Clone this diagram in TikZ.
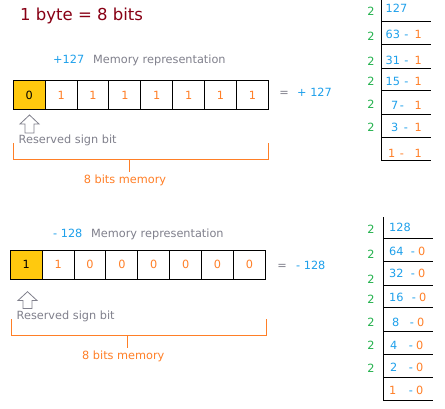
\documentclass[tikz,border=0pt]{standalone}
\usepackage{fontspec}
\setmainfont{DejaVu Sans}
\definecolor{titlered}{RGB}{136,0,21}
\definecolor{numblue}{RGB}{30,160,235}
\definecolor{bitorange}{RGB}{255,127,39}
\definecolor{labgray}{RGB}{128,128,140}
\definecolor{twogreen}{RGB}{34,177,76}
\definecolor{signgold}{RGB}{255,201,14}
\begin{document}
\begin{tikzpicture}[x=1pt,y=-1pt,
  every node/.style={inner sep=0pt, text height=8.2pt, text depth=0pt, font=\fontsize{11.3}{13}\selectfont},
  cell/.style={draw=black, line width=1pt, minimum width=31.875pt, minimum height=29pt, text=bitorange},
  signcell/.style={cell, fill=signgold, text=black},
  lbl/.style={text=labgray, anchor=west},
  num/.style={text=numblue, anchor=west},
  two/.style={text=twogreen},
  bracketline/.style={draw=bitorange, line width=0.9pt},
  tabline/.style={draw=black, line width=1pt},
  uparrow/.style={draw=labgray, line width=0.8pt, fill=white}]
\useasboundingbox[fill=white] (0,0) rectangle (445,408);

% title
\node[anchor=west, text=titlered, text height=12pt, font=\fontsize{16.5}{19}\selectfont] (title) at (20,14) {1 byte = 8 bits};

% ---------- top section ----------
\node[num] (tval) at (53,59) {+127};
\node[lbl] (tmem) at (93,59) {Memory representation};
\foreach \i/\t in {1/1,2/1,3/1,4/1,5/1,6/1,7/1} {
  \node[cell] (ta\i) at ({13.3+31.875*(\i+0.5)},94.9) {\t};
}
\node[signcell] (ta0) at ({13.3+31.875*0.5},94.9) {0};
\node[text=labgray] (teq) at (284,92) {=};
\node[num] (tres) at (297,92) {+ 127};
\path[uparrow] (29.5,115) -- (39,124) -- (34,124) -- (34,133) -- (25,133) -- (25,124) -- (20,124) -- cycle;
\node[lbl] (tsign) at (18.5,139) {Reserved sign bit};
\path[bracketline] (13.3,143) -- (13.3,159.3) -- (268.3,159.3) -- (268.3,143);
\coordinate (tbt) at (129.3,159.3);
\node[text=bitorange] (tbits) at (125,179) {8 bits memory};
\draw[bracketline, shorten >=3pt] (tbt) -- (tbt |- tbits.north);

% top division table
\draw[tabline] (381.3,0) -- (381.3,160) -- (431,160);
\foreach \y in {21.3,44,68.3,90,114,137} { \draw[tabline] (381.3,\y) -- (431,\y); }
\foreach \y [count=\k] in {11,36,61,81,104,127} { \node[two] (tt\k) at (371,\y) {2}; }
\node[num] (tq0) at (385.5,8) {127};
\node[num] (tq1) at (385.5,34) {63};
\node[num] (tq2) at (385.5,60) {31};
\node[num] (tq3) at (385.5,81) {15};
\node[num] (tq4) at (391,105) {7};
\node[num] (tq5) at (391,127) {3};
\node[text=bitorange, anchor=west] (tq6) at (388,153) {1};
\foreach \y/\dx/\k in {34/406.5/1,60/406.5/2,81/406.5/3,105/402/4,127/406/5} {
  \node[text=numblue] (td\k) at (\dx,\y) {-};
  \node[text=bitorange, anchor=west] (tr\k) at (414.5,\y) {1};
}
\node[text=bitorange] (td6) at (402,153) {-};
\node[text=bitorange, anchor=west] (tr6) at (414.5,153) {1};

% ---------- bottom section ----------
\node[num] (bval) at (53,233) {- 128};
\node[lbl] (bmem) at (91,233) {Memory representation};
\foreach \i/\t in {1/1,2/0,3/0,4/0,5/0,6/0,7/0} {
  \node[cell] (ba\i) at ({10.3+31.875*(\i+0.5)},264.8) {\t};
}
\node[signcell] (ba0) at ({10.3+31.875*0.5},264.8) {1};
\node[text=labgray] (beq) at (282,265) {=};
\node[num] (bres) at (296,265) {- 128};
\path[uparrow] (27.5,291.7) -- (37,300.5) -- (32,300.5) -- (32,308.5) -- (23,308.5) -- (23,300.5) -- (18,300.5) -- cycle;
\node[lbl] (bsign) at (16.5,315) {Reserved sign bit};
\path[bracketline] (11.7,319) -- (11.7,335.3) -- (266.3,335.3) -- (266.3,319);
\coordinate (bbt) at (127.3,335.3);
\node[text=bitorange] (bbits) at (123.3,355) {8 bits memory};
\draw[bracketline, shorten >=3pt] (bbt) -- (bbt |- bbits.north);

% bottom division table
\draw[tabline] (383.3,217.3) -- (383.3,400) -- (433.3,400);
\foreach \y in {238.7,261.3,285.3,307.3,331.3,354.3,377.3} { \draw[tabline] (383.3,\y) -- (433.3,\y); }
\foreach \y [count=\k] in {229,254,279,299,322,345,368} { \node[two] (bt\k) at (371,\y) {2}; }
\node[num] (bq0) at (389,227) {128};
\node[num] (bq1) at (389,251) {64};
\node[num] (bq2) at (389,273) {32};
\node[num] (bq3) at (389,297) {16};
\node[num] (bq4) at (392,322) {8};
\node[num] (bq5) at (390,345) {4};
\node[num] (bq6) at (390,367) {2};
\node[text=bitorange, anchor=west] (bq7) at (389,390) {1};
\foreach \y/\dx/\k in {251/413/1,273/413/2,297/414/3,322/412/4,345/411/5,367/411/6,390/411/7} {
  \node[text=numblue] (bd\k) at (\dx,\y) {-};
  \node[text=bitorange, anchor=west] (br\k) at (\dx+5,\y) {0};
}
\end{tikzpicture}
\end{document}
